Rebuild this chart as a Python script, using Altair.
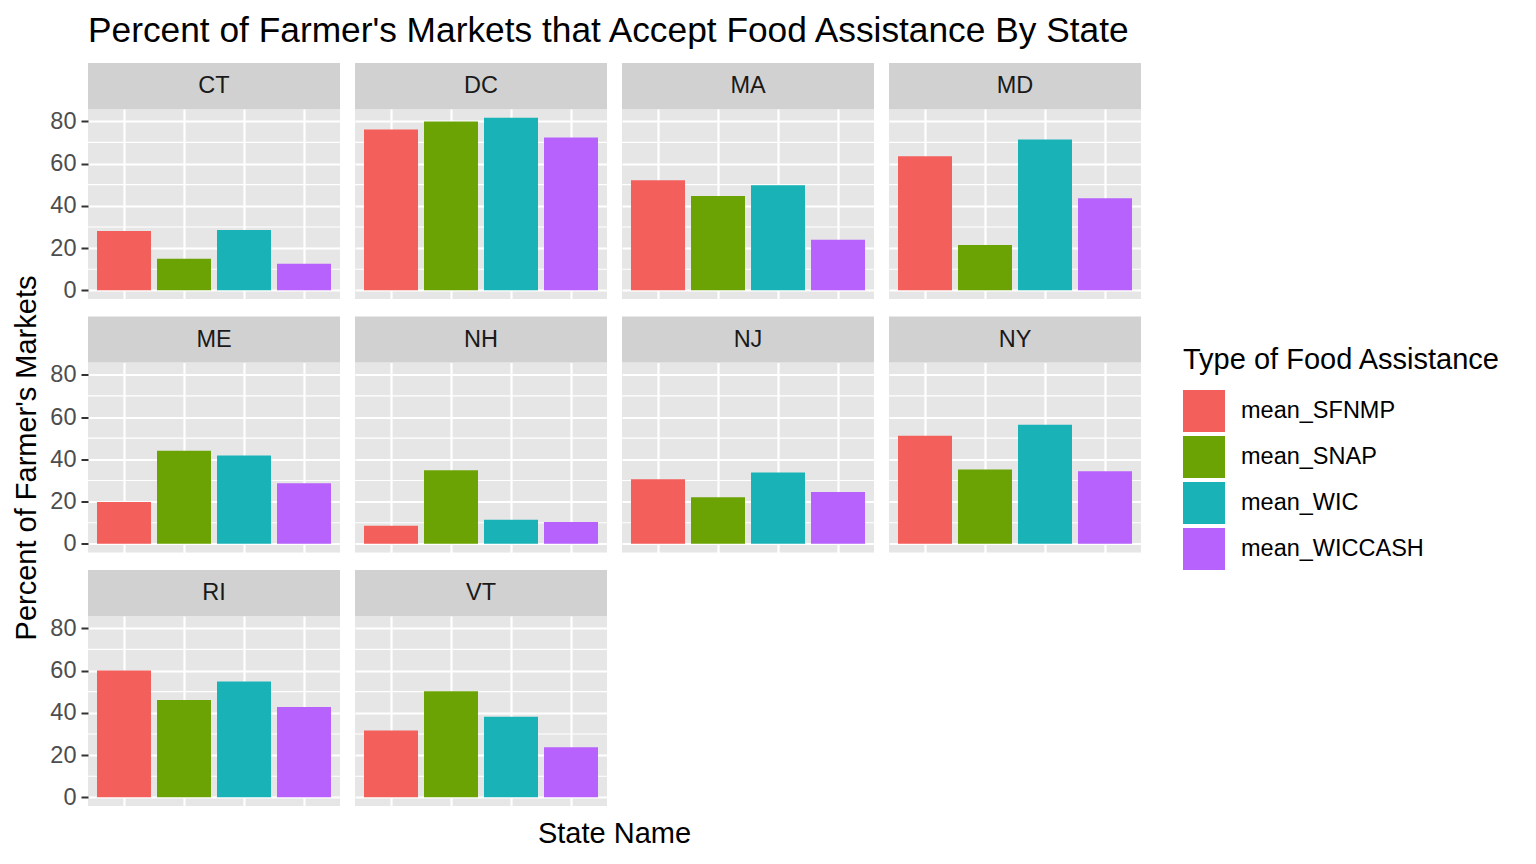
import altair as alt
import pandas as pd

states = ["CT", "DC", "MA", "MD", "ME", "NH", "NJ", "NY", "RI", "VT"]
types = ["mean_SFNMP", "mean_SNAP", "mean_WIC", "mean_WICCASH"]
colors = ["#F35F5B", "#6BA304", "#19B3B7", "#B762FD"]
sfnmp = [28.1, 76.1, 52.1, 63.4, 19.8, 8.6, 30.6, 51.1, 60.0, 31.6]
snap = [14.9, 79.9, 44.6, 21.5, 44.1, 34.8, 22.1, 35.2, 46.0, 50.2]
wic = [28.6, 81.7, 49.7, 71.4, 41.8, 11.4, 33.8, 56.3, 54.8, 38.1]
wiccash = [12.6, 72.3, 23.9, 43.6, 28.7, 10.4, 24.5, 34.3, 42.7, 23.7]
major_ticks = [0, 20, 40, 60, 80]
minor_ticks = [10, 30, 50, 70]

rows = []
for i, s in enumerate(states):
    for t, vals in zip(types, [sfnmp, snap, wic, wiccash]):
        rows.append({"state": s, "type": t, "value": vals[i]})
df = pd.DataFrame(rows)
minor_df = pd.DataFrame({"value": minor_ticks})

W, H, STRIP = 252, 190, 46
FONT = "Liberation Sans"
ymax = df["value"].max()
ydom = [-0.05 * ymax, 1.05 * ymax]

legend = alt.Legend(
    title="Type of Food Assistance", orient="none", legendX=1095, legendY=237,
    symbolType="square", symbolSize=1764, symbolStrokeWidth=0, symbolOpacity=1,
    titleFontSize=29, titleFont=FONT, titleFontWeight="normal", titleColor="black",
    labelFontSize=23.5, labelFont=FONT, labelColor="black", labelOffset=16,
    rowPadding=4, titlePadding=15, titleLimit=500, labelLimit=400,
)


def panel(i, state):
    col = i % 4
    d = df[df.state == state]
    show_y = col == 0
    ykw = dict(
        values=major_ticks, labels=show_y, ticks=show_y, domain=False, grid=True,
        gridColor="white", gridWidth=2.2, tickColor="#333333", tickSize=7, tickWidth=2,
        labelFontSize=23.5, labelColor="#4D4D4D", labelFont=FONT, labelPadding=5,
        titleFontSize=29, titleFont=FONT, titleColor="black", titleFontWeight="normal",
        titlePadding=8,
    )
    ykw["title"] = "Percent of Farmer's Markets" if state == "ME" else None
    xkw = dict(
        labels=False, ticks=False, domain=False, grid=True, gridColor="white",
        gridWidth=2.2, bandPosition=0.5,
    )
    if state == "VT":
        xkw.update(title="State Name", titleX=259, titleY=27, titleBaseline="middle",
                   titleFontSize=29, titleFont=FONT, titleColor="black",
                   titleFontWeight="normal")
    else:
        xkw["title"] = None
    yscale = alt.Scale(domain=ydom, nice=False, zero=False)
    yaxis = alt.Axis(**ykw)
    minor = alt.Chart(minor_df).mark_rule(color="white", strokeWidth=1.1).encode(
        y=alt.Y("value:Q", scale=yscale, axis=yaxis)
    )
    bars = alt.Chart(d).mark_bar().encode(
        x=alt.X("type:N", sort=types,
                scale=alt.Scale(domain=types, paddingInner=0.1, paddingOuter=0.15),
                axis=alt.Axis(**xkw)),
        y=alt.Y("value:Q", scale=yscale, axis=yaxis),
        y2=alt.datum(0),
        color=alt.Color("type:N", scale=alt.Scale(domain=types, range=colors), legend=legend),
    )
    sdf = pd.DataFrame({"state": [state]})
    strip = alt.Chart(sdf).mark_rect(color="#D1D1D1").encode(
        x=alt.value(0), x2=alt.value(W), y=alt.value(-STRIP), y2=alt.value(0)
    )
    stext = alt.Chart(sdf).mark_text(
        font=FONT, fontSize=23.5, color="#1A1A1A", baseline="middle", align="center"
    ).encode(text="state:N", x=alt.value(W / 2), y=alt.value(-STRIP / 2))
    return alt.layer(minor, bars, strip, stext).properties(width=W, height=H)


panels = [panel(i, s) for i, s in enumerate(states)]

chart = alt.ConcatChart(
    concat=panels, columns=4, spacing={"row": 63.5, "column": 15}, bounds="flush",
).resolve_scale(x="independent", y="independent").properties(
    title=alt.TitleParams(
        "Percent of Farmer's Markets that Accept Food Assistance By State",
        anchor="start", frame="group", fontSize=35.3, font=FONT, fontWeight="normal",
        color="black", offset=14,
    ),
    padding={"left": 12, "top": 13, "right": 5, "bottom": 5},
    background="white",
).configure_view(fill="#E6E6E6", strokeWidth=0)

chart.save("out.html", embed_options={"renderer": "svg", "actions": False})
